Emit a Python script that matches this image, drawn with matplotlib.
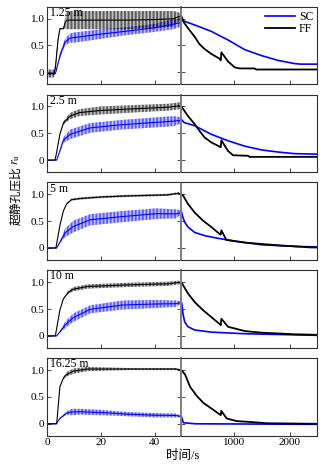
import numpy as np
import matplotlib
matplotlib.use("Agg")
import matplotlib.pyplot as plt
from matplotlib.lines import Line2D

plt.rcParams['font.family'] = ['Liberation Serif', 'Noto Sans CJK SC']
plt.rcParams['mathtext.fontset'] = 'stix'
plt.rcParams['hatch.linewidth'] = 0.45
plt.rcParams['axes.unicode_minus'] = False

depths = ["1.25 m", "2.5 m", "5 m", "10 m", "16.25 m"]
series_labels = ["SC", "FF"]
left_xticks = [0, 20, 40]
right_xticks = [1000, 2000]
yticks = [0, 0.5, 1.0]
ytick_labels = ["0", "0.5", "1.0"]
xlabel = "时间/s"
ylabel_cn = "超静孔压比"
ylabel_sym = "$r_{\\rm u}$"

# ---------------- panel 1 : 1.25 m ----------------
p1_ff_t = [0, 2.5, 3.0, 4.0, 4.7, 6.0, 6.6, 7.2, 10, 20, 30, 40, 47, 49, 50]
p1_ff_lo = [-0.10, -0.10, 0.0, 0.55, 0.80, 0.80, 0.82, 0.80, 0.80, 0.80, 0.80, 0.82, 0.85, 0.95, 1.0]
p1_ff_hi = [0.05, 0.05, 0.15, 0.65, 0.82, 0.82, 1.0, 1.14, 1.14, 1.14, 1.14, 1.14, 1.14, 1.12, 1.05]
p1_sc_t = [0, 3.0, 3.5, 4.7, 6.6, 8.5, 10, 20, 28, 40, 47, 50]
p1_sc_lo = [-0.05, -0.05, 0.05, 0.25, 0.50, 0.55, 0.55, 0.62, 0.68, 0.75, 0.80, 0.85]
p1_sc_hi = [0.0, 0.0, 0.08, 0.35, 0.62, 0.72, 0.74, 0.80, 0.83, 0.90, 0.99, 1.0]
p1_ffd_t = [50, 100, 200, 291, 380, 471, 591, 742, 760, 772, 892, 1012, 1100, 1370, 1400, 2000, 2500]
p1_ffd_v = [1.05, 0.92, 0.78, 0.66, 0.52, 0.43, 0.34, 0.25, 0.22, 0.37, 0.20, 0.09, 0.07, 0.07, 0.05, 0.05, 0.05]
p1_scd_t = [50, 291, 591, 892, 1192, 1492, 1793, 2093, 2200, 2500]
p1_scd_v = [0.97, 0.88, 0.76, 0.60, 0.42, 0.31, 0.22, 0.16, 0.15, 0.15]

# ---------------- panel 2 : 2.5 m ----------------
p2_ff_t = [0, 2.9, 3.5, 4.7, 6.0, 8.5, 12, 20, 30, 45, 50]
p2_ff_lo = [0, 0, 0.15, 0.47, 0.66, 0.76, 0.82, 0.85, 0.88, 0.92, 0.95]
p2_ff_hi = [0, 0, 0.15, 0.49, 0.72, 0.88, 0.95, 1.00, 1.02, 1.05, 1.08]
p2_sc_t = [0, 3.5, 4.7, 6.0, 8.5, 16, 28, 47, 50]
p2_sc_lo = [0, 0, 0.15, 0.32, 0.39, 0.51, 0.57, 0.63, 0.68]
p2_sc_hi = [0, 0, 0.19, 0.42, 0.57, 0.69, 0.75, 0.82, 0.80]
p2_ffd_t = [50, 171, 291, 381, 471, 591, 742, 760, 772, 892, 982, 1252, 1280, 2500]
p2_ffd_v = [1.0, 0.82, 0.67, 0.54, 0.42, 0.33, 0.25, 0.24, 0.37, 0.17, 0.09, 0.08, 0.06, 0.06]
p2_scd_t = [50, 100, 291, 591, 892, 1192, 1492, 1793, 2093, 2500]
p2_scd_v = [0.76, 0.70, 0.64, 0.48, 0.36, 0.26, 0.19, 0.15, 0.12, 0.11]

# ---------------- panel 3 : 5 m ----------------
p3_ff_t = [0, 3.2, 4.7, 6.0, 7.2, 9, 12, 20, 30, 45, 49, 50]
p3_ff_lo = [0, 0, 0.42, 0.69, 0.81, 0.88, 0.90, 0.93, 0.95, 0.97, 1.00, 0.99]
p3_ff_hi = [0, 0, 0.42, 0.69, 0.83, 0.92, 0.94, 0.97, 0.99, 1.01, 1.04, 1.01]
p3_sc_t = [0, 3.5, 4.7, 6.6, 9.7, 16, 28, 40.8, 48, 50]
p3_sc_lo = [0, 0, 0.09, 0.20, 0.29, 0.42, 0.48, 0.54, 0.55, 0.62]
p3_sc_hi = [0, 0, 0.12, 0.36, 0.51, 0.63, 0.69, 0.74, 0.72, 0.70]
p3_ffd_t = [50, 80, 171, 291, 441, 591, 742, 760, 772, 862, 1192, 1793, 2393, 2500]
p3_ffd_v = [1.0, 0.98, 0.82, 0.66, 0.51, 0.39, 0.26, 0.25, 0.33, 0.15, 0.10, 0.05, 0.01, 0.01]
p3_scd_t = [50, 70, 111, 171, 291, 471, 712, 1012, 1492, 2093, 2500]
p3_scd_v = [0.69, 0.60, 0.48, 0.39, 0.29, 0.23, 0.18, 0.13, 0.06, 0.03, 0.02]

# ---------------- panel 4 : 10 m ----------------
p4_ff_t = [0, 3.0, 4.7, 6.0, 7.8, 9.7, 15, 20, 30, 45, 49, 50]
p4_ff_lo = [0, 0, 0.48, 0.69, 0.78, 0.83, 0.88, 0.89, 0.91, 0.93, 0.96, 0.96]
p4_ff_hi = [0, 0, 0.48, 0.69, 0.84, 0.91, 0.96, 0.97, 0.99, 1.01, 1.03, 1.00]
p4_sc_t = [0, 3.5, 4.7, 6.6, 9.7, 16, 28, 40.8, 48, 50]
p4_sc_lo = [0, 0, 0.06, 0.14, 0.26, 0.42, 0.49, 0.52, 0.54, 0.60]
p4_sc_hi = [0, 0, 0.09, 0.26, 0.42, 0.57, 0.66, 0.67, 0.66, 0.64]
p4_ffd_t = [50, 171, 291, 441, 591, 742, 760, 772, 892, 1192, 1492, 2093, 2500]
p4_ffd_v = [1.0, 0.79, 0.63, 0.48, 0.35, 0.22, 0.20, 0.32, 0.17, 0.09, 0.06, 0.03, 0.02]
p4_scd_t = [50, 60, 80, 111, 171, 291, 591, 1192, 2500]
p4_scd_v = [0.63, 0.60, 0.41, 0.26, 0.17, 0.11, 0.07, 0.04, 0.01]

# ---------------- panel 5 : 16.25 m ----------------
p5_ff_t = [0, 3.5, 4.7, 6.0, 7.2, 9.7, 15, 30, 48, 50]
p5_ff_lo = [0, 0, 0.69, 0.83, 0.88, 0.93, 0.98, 1.00, 1.00, 0.99]
p5_ff_hi = [0, 0, 0.69, 0.87, 0.96, 1.03, 1.06, 1.04, 1.04, 1.01]
p5_sc_t = [0, 3.3, 4.7, 7.2, 9, 12, 20, 30, 40, 48, 50]
p5_sc_lo = [0, 0, 0.09, 0.17, 0.16, 0.17, 0.16, 0.14, 0.12, 0.12, 0.12]
p5_sc_hi = [0, 0, 0.11, 0.23, 0.28, 0.28, 0.26, 0.22, 0.20, 0.19, 0.15]
p5_ffd_t = [50, 117, 207, 328, 447, 627, 748, 760, 770, 868, 1048, 1348, 1588, 2500]
p5_ffd_v = [1.0, 0.92, 0.69, 0.52, 0.39, 0.26, 0.17, 0.16, 0.24, 0.10, 0.05, 0.03, 0.01, 0.0]
p5_scd_t = [50, 86, 300, 2500]
p5_scd_v = [0.14, 0.02, 0.0, -0.01]

panels = [
    (p1_ff_t, p1_ff_lo, p1_ff_hi, p1_sc_t, p1_sc_lo, p1_sc_hi, p1_ffd_t, p1_ffd_v, p1_scd_t, p1_scd_v),
    (p2_ff_t, p2_ff_lo, p2_ff_hi, p2_sc_t, p2_sc_lo, p2_sc_hi, p2_ffd_t, p2_ffd_v, p2_scd_t, p2_scd_v),
    (p3_ff_t, p3_ff_lo, p3_ff_hi, p3_sc_t, p3_sc_lo, p3_sc_hi, p3_ffd_t, p3_ffd_v, p3_scd_t, p3_scd_v),
    (p4_ff_t, p4_ff_lo, p4_ff_hi, p4_sc_t, p4_sc_lo, p4_sc_hi, p4_ffd_t, p4_ffd_v, p4_scd_t, p4_scd_v),
    (p5_ff_t, p5_ff_lo, p5_ff_hi, p5_sc_t, p5_sc_lo, p5_sc_hi, p5_ffd_t, p5_ffd_v, p5_scd_t, p5_scd_v),
]

SC_COLOR = '#0000ff'
FF_COLOR = '#000000'
FRAME = '#303030'
SPLIT = '#808080'

W, H = 328, 467
fig = plt.figure(figsize=(W / 100, H / 100), dpi=100)

x_left, x_split, x_right = 47.3, 181.3, 317.3
top0, pitch, ph = 6.7, 87.9, 77.3
ylim = (-0.22, 1.22)


def band(ax, t, lo, hi, color):
    t = np.asarray(t, float)
    lo = np.asarray(lo, float)
    hi = np.asarray(hi, float)
    ax.fill_between(t, lo, hi, facecolor='none', edgecolor=color,
                    hatch='|' * 12, linewidth=0)
    ax.plot(t, (lo + hi) / 2, color=color, lw=0.8)


for i, (fft, fflo, ffhi, sct, sclo, schi, ffdt, ffdv, scdt, scdv) in enumerate(panels):
    top = top0 + i * pitch
    b = 1 - (top + ph) / H
    h = ph / H
    axL = fig.add_axes([x_left / W, b, (x_split - x_left) / W, h])
    axR = fig.add_axes([x_split / W, b, (x_right - x_split) / W, h])

    band(axL, sct, sclo, schi, SC_COLOR)
    band(axL, fft, fflo, ffhi, FF_COLOR)
    axR.plot(scdt, scdv, color=SC_COLOR, lw=1.2)
    axR.plot(ffdt, ffdv, color=FF_COLOR, lw=1.3)

    for ax in (axL, axR):
        ax.set_ylim(*ylim)
        ax.set_yticks(yticks)
        for s in ax.spines.values():
            s.set_color(FRAME)
            s.set_linewidth(0.8)
        ax.tick_params(direction='in', length=3, width=0.6, labelsize=8,
                       colors=FRAME, labelcolor='black', pad=2)
    axL.spines['right'].set_color(SPLIT)
    axL.spines['right'].set_linewidth(1.4)
    axR.spines['left'].set_color(SPLIT)
    axR.spines['left'].set_linewidth(1.4)

    axL.set_xlim(0, 50)
    axL.set_xticks(left_xticks)
    axL.set_yticklabels(ytick_labels)
    axL.tick_params(axis='y', right=True)
    axR.set_xlim(50, 2500)
    axR.set_xticks(right_xticks)
    axR.tick_params(axis='y', left=True, labelleft=False)

    if i < len(panels) - 1:
        axL.tick_params(labelbottom=False)
        axR.tick_params(labelbottom=False)
    else:
        axL.set_xticklabels([str(v) for v in left_xticks])
        axR.set_xticklabels([str(v) for v in right_xticks])

    axL.text(0.02, 1.0, depths[i], transform=axL.transAxes, ha='left', va='top',
             fontsize=8.5)

    if i == 0:
        handles = [Line2D([], [], color=SC_COLOR, lw=1.2),
                   Line2D([], [], color=FF_COLOR, lw=1.3)]
        axR.legend(handles, series_labels, loc='upper right', frameon=False,
                   fontsize=8.5, handlelength=2.6, handletextpad=0.3,
                   labelspacing=0.05, borderaxespad=0.15, borderpad=0.2)

# y label: Chinese part plus symbol r_u above it (rotated)
fig.text(16 / W, 1 - 196 / H, ylabel_cn, rotation=90, ha='center', va='center',
         fontsize=8.5, family=['Noto Sans CJK SC'])
fig.text(16.5 / W, 1 - 159 / H, ylabel_sym, rotation=90, ha='center', va='center',
         fontsize=9)
fig.text((x_left + x_right) / 2 / W, 1 - 456 / H, xlabel, ha='center',
         va='center', fontsize=9)

fig.savefig('out.png', dpi=100)
